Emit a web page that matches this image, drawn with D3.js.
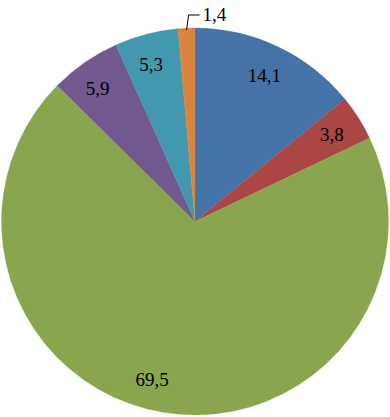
<!DOCTYPE html>
<html lang="en">
<head>
<meta charset="utf-8">
<title>Pie</title>
<style>
  body { margin: 0; background: #fff; }
</style>
</head>
<body>
<div id="chart"></div>
<script src="https://cdn.jsdelivr.net/npm/d3@7"></script>
<script>
var labels = ["14,1", "3,8", "69,5", "5,9", "5,3", "1,4"];
var values = [14.1, 3.8, 69.5, 5.9, 5.3, 1.4];
var colors = ["#4572A7", "#AA4643", "#89A54E", "#71588F", "#4198AF", "#DB843D"];

var width = 390, height = 417,
    cx = 195, cy = 221.5, r = 193.5;
var font = "'Liberation Serif', serif";

var svg = d3.select("#chart").append("svg")
    .attr("width", width)
    .attr("height", height);

var g = svg.append("g").attr("transform", "translate(" + cx + "," + cy + ")");

var pie = d3.pie().sort(null).value(function(d) { return d; });
var arcs = pie(values);

var arc = d3.arc().innerRadius(0).outerRadius(r);
var labelArc = d3.arc().innerRadius(162).outerRadius(162);

// no borders between slices; a hairline of the same colour hides seams
g.selectAll("path")
    .data(arcs)
  .enter().append("path")
    .attr("d", arc)
    .attr("fill", function(d, i) { return colors[i]; })
    .attr("stroke", function(d, i) { return colors[i]; })
    .attr("stroke-width", 0.3);

// inside labels (all but the small last slice)
g.selectAll("text.in")
    .data(arcs.filter(function(d, i) { return i < 5; }))
  .enter().append("text")
    .style("font-family", font)
    .style("font-size", "19px")
    .attr("text-anchor", "middle")
    .attr("dy", "0.35em")
    .attr("transform", function(d) {
      var c = labelArc.centroid(d);
      // a few labels sit slightly off the centroid line in the original
      if (d.index === 2) c = [c[0] - 16, c[1] - 2];
      if (d.index === 3) c = [c[0] - 5, c[1]];
      if (d.index === 4) c = [c[0] - 3, c[1]];
      return "translate(" + c + ")";
    })
    .text(function(d) { return labels[d.index]; });

// outside label with leader line for the smallest slice
var small = arcs[5];
var mid = (small.startAngle + small.endAngle) / 2;
var p0 = [Math.sin(mid) * (r - 2), -Math.cos(mid) * (r - 2)];
var p1 = [p0[0] + 2, -cy + 15];
var p2 = [p1[0] + 11, p1[1]];

g.append("polyline")
    .attr("points", [p0, p1, p2].map(function(p) { return p.join(","); }).join(" "))
    .attr("fill", "none")
    .attr("stroke", "#000")
    .attr("stroke-width", 1);

g.append("text")
    .style("font-family", font)
    .style("font-size", "19px")
    .attr("x", p2[0] + 3)
    .attr("y", p2[1])
    .attr("dy", "0.3em")
    .text(labels[5]);
</script>
</body>
</html>
